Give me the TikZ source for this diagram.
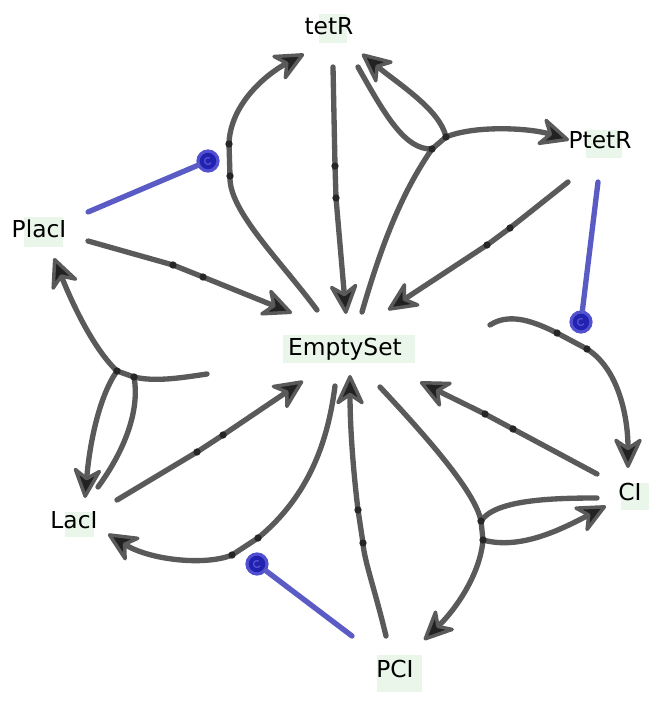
\documentclass[tikz,border=0pt]{standalone}
\usepackage{fontspec}
\setmainfont{DejaVu Sans}
\usetikzlibrary{arrows.meta}
\definecolor{edgec}{HTML}{5A5A5A}
\definecolor{tipfill}{HTML}{222222}
\definecolor{modline}{HTML}{5B5BC6}
\definecolor{modfill}{HTML}{2222B0}
\definecolor{modring}{HTML}{5050D0}
\definecolor{hlc}{HTML}{EAF6EA}
\begin{document}
\begin{tikzpicture}[x=0.75pt,y=-0.75pt,
  rx/.style={draw=edgec, line width=4pt, line cap=round, line join=round},
  prod/.style={rx, -{Stealth[length=26pt,width=24pt,inset=8pt,line width=2.6pt,round,fill=tipfill]}},
  rdot/.style={circle, fill=black!85, inner sep=0pt, minimum size=5.5pt},
  lbl/.style={anchor=base, inner sep=0pt, font=\fontsize{17.5}{20}\selectfont},
  modl/.style={draw=modline, line width=4pt, line cap=round},
  modc/.style={circle, fill=modfill, draw=modring, line width=2.4pt, inner sep=0pt, minimum size=15pt}
]
\useasboundingbox (0,0) rectangle (664,702);
% highlight boxes
\fill[hlc] (319,14) rectangle (347,43);
\fill[hlc] (586,130) rectangle (622,158);
\fill[hlc] (24,217) rectangle (63,247);
\fill[hlc] (283,335) rectangle (415,363);
\fill[hlc] (621,483) rectangle (649,510);
\fill[hlc] (65,512) rectangle (94,537);
\fill[hlc] (377,655) rectangle (422,692);
% labels
\node[lbl] (tetR) at (329,35) {tetR};
\node[lbl] (PtetR) at (600,149) {PtetR};
\node[lbl] (PlacI) at (39,237) {PlacI};
\node[lbl] (EmptySet) at (345,355) {EmptySet};
\node[lbl] (CI) at (630,500) {CI};
\node[lbl] (LacI) at (74,528) {LacI};
\node[lbl] (PCI) at (395,677) {PCI};
% connector end points
\coordinate (t1s) at (333,67);   \coordinate (t1e) at (346,314);
\coordinate (t2s) at (317,310);  \coordinate (t2e) at (304,54);
\coordinate (t3a) at (358,67);   \coordinate (t3b) at (362,54);
\coordinate (t3c) at (569,140);  \coordinate (t3d) at (362,312);
\coordinate (t4s) at (568,182);  \coordinate (t4e) at (388,310);
\coordinate (t5s) at (490,325);  \coordinate (t5e) at (628,468);
\coordinate (t6s) at (597,474);  \coordinate (t6e) at (420,382);
\coordinate (t7a) at (380,387);  \coordinate (t7b) at (597,498);
\coordinate (t7c) at (606,506);  \coordinate (t7d) at (424,640);
\coordinate (t8s) at (386,636);  \coordinate (t8e) at (350,375);
\coordinate (t9s) at (335,386);  \coordinate (t9e) at (108,534);
\coordinate (t10s) at (117,500); \coordinate (t10e) at (303,381);
\coordinate (t11a) at (207,374); \coordinate (t11b) at (54,258);
\coordinate (t11c) at (85,498);  \coordinate (t11d) at (98,487);
\coordinate (t12s) at (88,241);  \coordinate (t12e) at (292,313);
\coordinate (m1s) at (88,212);   \coordinate (m2s) at (598,182);
\coordinate (m3s) at (352,636);
% reaction centres
\coordinate (r1a) at (335,166);  \coordinate (r1b) at (336,198);
\coordinate (r2a) at (230,176);  \coordinate (r2b) at (229,144);
\coordinate (r3a) at (432,149);  \coordinate (r3b) at (446,137);
\coordinate (r4a) at (510,228);  \coordinate (r4b) at (487,245);
\coordinate (r5a) at (557,333);  \coordinate (r5b) at (587,349);
\coordinate (r6a) at (513,429);  \coordinate (r6b) at (485,414);
\coordinate (r7a) at (481,521);  \coordinate (r7b) at (483,540);
\coordinate (r8a) at (363,543);  \coordinate (r8b) at (358,510);
\coordinate (r9a) at (258,538);  \coordinate (r9b) at (232,555);
\coordinate (r10a) at (197,452); \coordinate (r10b) at (223,435);
\coordinate (r11a) at (117,371); \coordinate (r11b) at (134,377);
\coordinate (r12a) at (173,265); \coordinate (r12b) at (203,277);
% R1 tetR -> EmptySet
\draw[prod] (t1s) -- (r1a) -- (r1b) -- (t1e);
% R2 EmptySet -> tetR
\draw[prod] (t2s) .. controls (280,260) and (228,210) .. (r2a) -- (r2b) .. controls (230,105) and (265,75) .. (t2e);
% R3
\draw[rx] (t3a) .. controls (385,115) and (405,150) .. (r3a);
\draw[rx] (t3d) .. controls (380,250) and (400,195) .. (r3a);
\draw[rx] (r3a) -- (r3b);
\draw[prod] (r3b) .. controls (440,110) and (400,85) .. (t3b);
\draw[prod] (r3b) .. controls (475,125) and (530,128) .. (t3c);
% R4 PtetR -> EmptySet
\draw[prod] (t4s) -- (r4a) -- (r4b) -- (t4e);
% R5 EmptySet -> CI
\draw[prod] (t5s) .. controls (510,312) and (535,322) .. (r5a) -- (r5b) .. controls (620,370) and (628,420) .. (t5e);
% R6 CI -> EmptySet
\draw[prod] (t6s) -- (r6a) -- (r6b) -- (t6e);
% R7
\draw[rx] (t7a) .. controls (420,430) and (475,490) .. (r7a);
\draw[rx] (r7a) .. controls (495,500) and (550,498) .. (t7b);
\draw[rx] (r7a) -- (r7b);
\draw[prod] (r7b) .. controls (520,550) and (560,530) .. (t7c);
\draw[prod] (r7b) .. controls (480,575) and (455,610) .. (t7d);
% R8 PCI -> EmptySet
\draw[prod] (t8s) .. controls (375,590) and (364,560) .. (r8a) -- (r8b) .. controls (352,460) and (350,420) .. (t8e);
% R9 EmptySet -> LacI
\draw[prod] (t9s) .. controls (328,440) and (310,495) .. (r9a) -- (r9b) .. controls (205,566) and (150,560) .. (t9e);
% R10 LacI -> EmptySet
\draw[prod] (t10s) -- (r10a) -- (r10b) -- (t10e);
% R11
\draw[rx] (t11a) .. controls (180,378) and (155,382) .. (r11b);
\draw[rx] (r11a) -- (r11b);
\draw[prod] (r11a) .. controls (95,350) and (75,310) .. (t11b);
\draw[prod] (r11a) .. controls (100,395) and (90,440) .. (t11c);
\draw[rx] (r11b) .. controls (140,410) and (125,450) .. (t11d);
% R12 PlacI -> EmptySet
\draw[prod] (t12s) -- (r12a) -- (r12b) -- (t12e);
% reaction dots
\foreach \d in {r1a,r1b,r2a,r2b,r3a,r3b,r4a,r4b,r5a,r5b,r6a,r6b,r7a,r7b,r8a,r8b,r9a,r9b,r10a,r10b,r11a,r11b,r12a,r12b}
  \node[rdot] at (\d) {};
% modifiers
\node[modc] (c1) at (208,161) {};
\node[modc] (c2) at (581,322) {};
\node[modc] (c3) at (257,564) {};
\draw[modl] (m1s) -- (c1);
\draw[modl] (m2s) -- (c2);
\draw[modl] (m3s) -- (c3);
\foreach \c in {c1,c2,c3}
  \draw[modring, line width=1pt] ([shift={(60:2.6pt)}]\c.center) arc[start angle=60, end angle=330, radius=2.6pt];
\end{tikzpicture}
\end{document}
